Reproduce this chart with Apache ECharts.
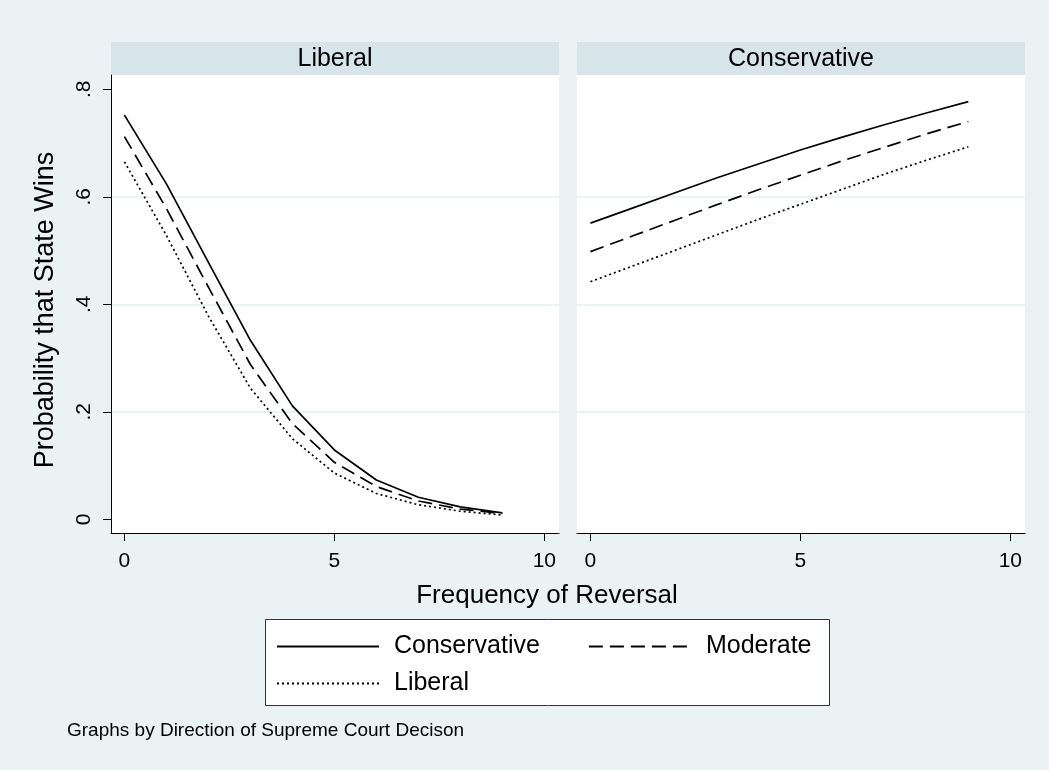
<!DOCTYPE html>
<html><head><meta charset="utf-8">
<script src="https://cdn.jsdelivr.net/npm/echarts@6/dist/echarts.min.js"></script>
<style>html,body{margin:0;padding:0;background:#EAF2F3}#c{width:1049px;height:770px}</style>
</head><body><div id="c"></div>
<script>
// ---- data ----
const xValues = [0, 1, 2, 3, 4, 5, 6, 7, 8, 9];
const panelTitles = ['Liberal', 'Conservative'];
const seriesNames = ['Conservative', 'Moderate', 'Liberal'];
// panel "Liberal" (direction of decision)
const libPanelConservative = [0.752, 0.624, 0.478, 0.333, 0.211, 0.129, 0.073, 0.041, 0.023, 0.012];
const libPanelModerate     = [0.712, 0.578, 0.432, 0.288, 0.178, 0.106, 0.061, 0.034, 0.019, 0.011];
const libPanelLiberal      = [0.665, 0.528, 0.378, 0.244, 0.150, 0.086, 0.048, 0.027, 0.015, 0.008];
// panel "Conservative"
const conPanelConservative = [0.551, 0.579, 0.607, 0.635, 0.661, 0.687, 0.711, 0.734, 0.756, 0.777];
const conPanelModerate     = [0.498, 0.527, 0.556, 0.585, 0.613, 0.640, 0.667, 0.692, 0.717, 0.740];
const conPanelLiberal      = [0.442, 0.471, 0.500, 0.529, 0.558, 0.586, 0.614, 0.642, 0.668, 0.693];
const xTickValues = [0, 5, 10];
const xTickLabels = ['0', '5', '10'];
const yTickValues = [0, 0.2, 0.4, 0.6, 0.8];
const yTickLabels = ['0', '.2', '.4', '.6', '.8'];
const xAxisTitle = 'Frequency of Reversal';
const yAxisTitle = 'Probability that State Wins';
const noteText = 'Graphs by Direction of Supreme Court Decison';

// ---- layout / style ----
const FONT = '"Liberation Sans", Arial, Helvetica, sans-serif';
const L = {
  panels: [{ left: 111, width: 448 }, { left: 577, width: 448 }],
  top: 75, height: 458, stripTop: 42,
  xMin: -0.32, xMax: 10.35, yMin: -0.0255, yMax: 0.8266
};
const lineTypes = { Conservative: 'solid', Moderate: [14, 7], Liberal: [2, 3] };
const panelData = [
  [libPanelConservative, libPanelModerate, libPanelLiberal],
  [conPanelConservative, conPanelModerate, conPanelLiberal]
];

const fmtX = v => { const i = xTickValues.indexOf(v); return i >= 0 ? xTickLabels[i] : ''; };
const fmtY = v => { const i = yTickValues.findIndex(t => Math.abs(t - v) < 1e-9); return i >= 0 ? yTickLabels[i] : ''; };

const grids = L.panels.map(p => ({
  left: p.left, top: L.top, width: p.width, height: L.height,
  show: true, backgroundColor: '#ffffff', borderWidth: 0, containLabel: false
}));

const xAxes = L.panels.map((p, i) => ({
  type: 'value', gridIndex: i, min: L.xMin, max: L.xMax,
  axisLine: { show: true, onZero: false, lineStyle: { color: '#000', width: 1 } },
  axisTick: { show: true, length: 8, customValues: xTickValues, lineStyle: { color: '#000', width: 1 } },
  axisLabel: { customValues: xTickValues, formatter: fmtX, margin: 18, fontSize: 21, color: '#000', fontFamily: FONT },
  splitLine: { show: false }
}));

const yAxes = L.panels.map((p, i) => ({
  type: 'value', gridIndex: i, min: L.yMin, max: L.yMax,
  axisLine: { show: i === 0, onZero: false, lineStyle: { color: '#000', width: 1 } },
  axisTick: { show: i === 0, length: 8, customValues: yTickValues, lineStyle: { color: '#000', width: 1 } },
  axisLabel: { show: i === 0, customValues: yTickValues, formatter: fmtY, rotate: 90, margin: 16, fontSize: 21, color: '#000', fontFamily: FONT },
  splitLine: { show: true, showMinLine: false, showMaxLine: false, lineStyle: { color: '#E6EFF2', width: 1.5 } }
}));

const series = [];
panelData.forEach((arrs, pi) => {
  arrs.forEach((arr, si) => {
    const name = seriesNames[si];
    series.push({
      type: 'line', name: name, xAxisIndex: pi, yAxisIndex: pi,
      data: xValues.map((x, k) => [x, arr[k]]),
      symbol: 'none', animation: false,
      lineStyle: { color: '#000', width: 1.7, type: lineTypes[name] },
      itemStyle: { color: '#000' }
    });
  });
});

const legendCommon = {
  left: 276, padding: 0, itemWidth: 102, itemHeight: 14, itemGap: 48,
  selectedMode: false,
  itemStyle: { opacity: 0 },
  textStyle: { fontSize: 25, color: '#000', fontFamily: FONT, padding: [0, 0, 0, 10] }
};

const graphic = [
  { type: 'rect', z: 0, shape: { x: 265.5, y: 619.5, width: 564, height: 86 },
    style: { fill: '#ffffff', stroke: '#333333', lineWidth: 1 } }
];
L.panels.forEach((p, i) => {
  graphic.push({ type: 'rect', z: 0, shape: { x: p.left, y: L.stripTop, width: p.width, height: L.top - L.stripTop },
    style: { fill: '#D7E4EA' } });
  graphic.push({ type: 'text', z: 1, x: p.left + p.width / 2, y: (L.stripTop + L.top) / 2 + 1,
    style: { text: panelTitles[i], fontSize: 25, fontFamily: FONT, fill: '#000', align: 'center', verticalAlign: 'middle' } });
});
graphic.push({ type: 'text', x: 547, y: 596,
  style: { text: xAxisTitle, fontSize: 26, fontFamily: FONT, fill: '#000', align: 'center', verticalAlign: 'middle' } });
graphic.push({ type: 'text', x: 46, y: 310, rotation: Math.PI / 2,
  style: { text: yAxisTitle, fontSize: 27, fontFamily: FONT, fill: '#000', align: 'center', verticalAlign: 'middle' } });
graphic.push({ type: 'text', x: 67, y: 731,
  style: { text: noteText, fontSize: 19, fontFamily: FONT, fill: '#000', align: 'left', verticalAlign: 'middle' } });

const chart = echarts.init(document.getElementById('c'), null, { renderer: 'canvas' });
chart.setOption({
  backgroundColor: '#EAF2F3',
  animation: false,
  textStyle: { fontFamily: FONT },
  grid: grids,
  xAxis: xAxes,
  yAxis: yAxes,
  legend: [
    Object.assign({}, legendCommon, { data: [seriesNames[0], seriesNames[1]], top: 634 }),
    Object.assign({}, legendCommon, { data: [seriesNames[2]], top: 671 })
  ],
  graphic: graphic,
  series: series
});
</script>
</body></html>
